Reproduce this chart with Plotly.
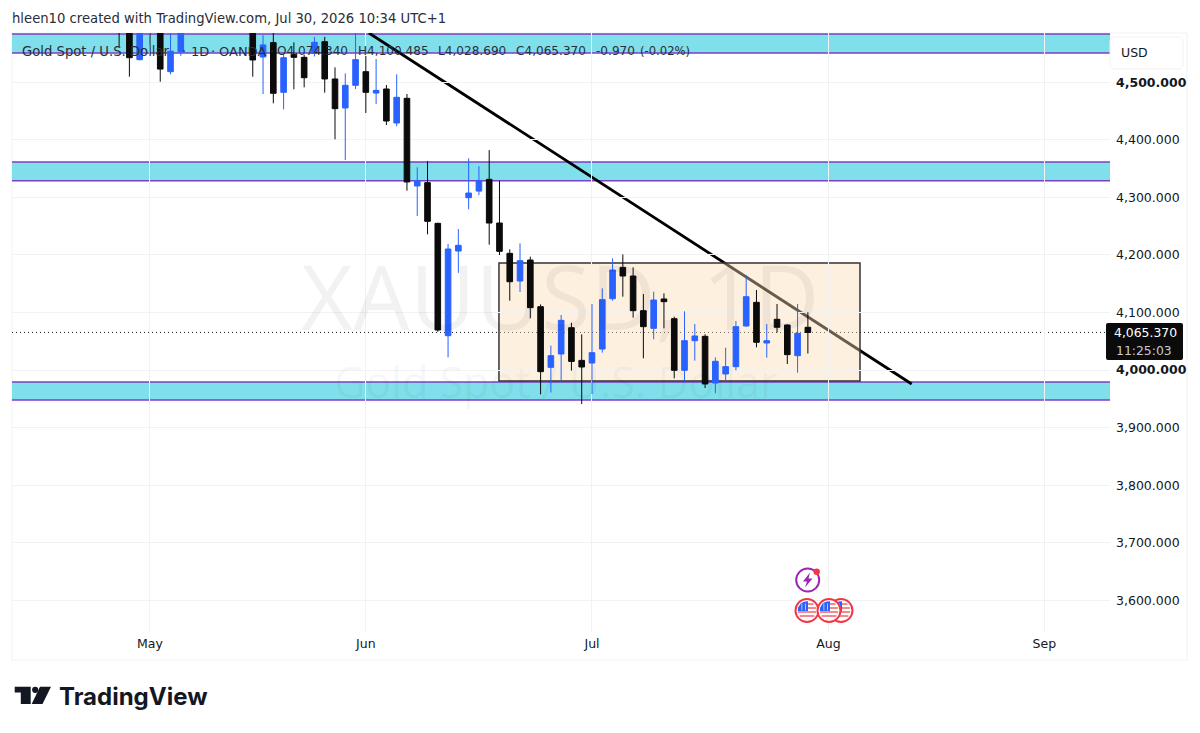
import math
import plotly.graph_objects as go

# ---- data ----------------------------------------------------------------
bar_index = [-3,-2,-1,0,1,2,3,10,11,12,13,14,15,16,17,18,19,20,21,22,23,24,25,26,27,28,29,30,31,32,33,34,35,36,37,38,39,40,41,42,43,44,45,46,47,48,49,50,51,52,53,54,55,56,57,58,59,60,61,62,63,64]
opens = [4640,4620,4539.4,4625,4600,4518.5,4553,4610,4544,4569,4482.6,4548.6,4543.4,4550,4570.6,4505.8,4455.4,4494.8,4518.5,4481.4,4488.4,4429.3,4472.2,4319.9,4325.6,4254.9,4059.7,4206.8,4299.5,4311,4331.4,4255.5,4202.8,4154.7,4191.2,4110.1,4004.7,4027.9,4073.6,4016.8,4012.2,4036.5,4124,4178.4,4163.4,4103.2,4072.5,4123.5,4089.3,3999.5,4051,4058.6,3977.5,3993.2,4005.9,4076.6,4117.7,4047,4088.2,4078.3,4025,4074.34]
highs = [4650,4630,4600,4635,4610,4590,4600,4620,4582,4590,4548.6,4569.5,4548,4579,4579,4526,4515.6,4590,4545.7,4540.5,4495.3,4513.9,4479.7,4352.3,4363.2,4256,4219,4245,4367.8,4354.5,4382.3,4329,4209.7,4220.2,4197,4114,4042.4,4095.6,4082.3,4062,4114.7,4142,4194,4201,4178.5,4132.2,4136.2,4133.3,4092.8,4102,4080,4062.1,4022.1,4038.9,4085.3,4165.2,4139.1,4080,4114.8,4079.5,4114.8,4100.485]
lows = [4560,4509.8,4538,4565,4501,4513.9,4546,4509.8,4479.7,4463.5,4453,4487.8,4491.3,4545,4482,4401,4365,4488.4,4446.7,4462.3,4425.8,4423.5,4311.7,4267.6,4235.8,4066.6,4022,4169,4279.2,4304,4217.8,4199.9,4120.5,4135.6,4089.8,3957.8,3961,3981.5,3998.9,3941,3958.4,4030.2,4120.5,4127.5,4091,4020.4,4053.4,4072.5,3985.6,3979.8,4016.3,3968.8,3959.6,3979.8,3999.5,4075.4,4039.5,4021.5,4065,4010.5,3995.5,4028.69]
closes = [4600,4542.8,4595,4590,4523,4554,4595,4538.8,4565,4480.9,4542.8,4543.4,4508,4569.5,4505.8,4454.2,4494.8,4539.4,4482.6,4486,4432.8,4473.9,4326.8,4329,4258.4,4069.6,4210.3,4216.7,4307.6,4329,4255.5,4206.3,4153.5,4190,4108.4,3997.2,4025,4086.4,4015,4005.3,4030.2,4122.3,4173.8,4163.4,4103.2,4075.4,4121.7,4118.8,3999.5,4051,4059.2,3975.8,4015.2,4005.9,4075.4,4127.5,4048.2,4051,4074.3,4026.8,4063.8,4065.37]

month_bars = [0, 21, 43, 66, 87]
month_labels = ["May", "Jun", "Jul", "Aug", "Sep"]
price_ticks = [3600, 3700, 3800, 3900, 4000, 4100, 4200, 4300, 4400, 4500]
price_labels = ["3,600.000", "3,700.000", "3,800.000", "3,900.000", "<b>4,000.000</b>",
                "4,100.000", "4,200.000", "4,300.000", "4,400.000", "<b>4,500.000</b>"]
zones = [(4550.9, 4583.9), (4329, 4361.5), (3948, 3979.3)]
box_bars = (33.95, 69.07)
box_prices = (3981, 4186)
trend_bars = (21.3, 74.1)
trend_prices = (4585.7, 3975.7)
last_price = 4065.37

title_text = "hleen10 created with TradingView.com, Jul 30, 2026 10:34 UTC+1"
legend_tokens = ["Gold Spot / U.S. Dollar", "·", "1D", "·", "OANDA", "·", "O4,074.340", "H4,100.485",
                 "L4,028.690", "C4,065.370", "-0.970", "(-0.02%)"]

# ---- page geometry --------------------------------------------------------
W, H = 1200, 733
L, R, T, B = 12, 1110, 33, 632
FONT = "DejaVu Sans"
INK = "#131722"
GRID = "#f1f2f4"
legend_x = [20, 180, 189, 209, 217, 268, 275, 356, 436, 514, 594, 638]
legend_size = [13.2, 13, 13, 13, 13, 13, 12.1, 12.1, 12.1, 12.1, 12.1, 11.6]


def px(x):
    return (x - L) / (R - L)


def py(y):
    return 1 - (y - T) / (B - T)


def poly(points):
    return "M" + " L".join(f"{px(x):.5f},{py(y):.5f}" for x, y in points) + " Z"


def round_rect(x0, y0, x1, y1, r):
    X0, X1, Y0, Y1 = px(x0), px(x1), py(y0), py(y1)
    a, b, c, d = px(x0 + r), px(x1 - r), py(y0 + r), py(y1 - r)
    return (f"M{a:.5f},{Y0:.5f} L{b:.5f},{Y0:.5f} Q{X1:.5f},{Y0:.5f} {X1:.5f},{c:.5f} "
            f"L{X1:.5f},{d:.5f} Q{X1:.5f},{Y1:.5f} {b:.5f},{Y1:.5f} L{a:.5f},{Y1:.5f} "
            f"Q{X0:.5f},{Y1:.5f} {X0:.5f},{d:.5f} L{X0:.5f},{c:.5f} Q{X0:.5f},{Y0:.5f} {a:.5f},{Y0:.5f} Z")


def circle(cx, cy, r, fill, line=None, width=0):
    return dict(type="circle", xref="paper", yref="paper", layer="above",
                x0=px(cx - r), x1=px(cx + r), y0=py(cy + r), y1=py(cy - r),
                fillcolor=fill, line=dict(color=line or fill, width=width))


def path(d, fill, line=None, width=0, layer="above"):
    return dict(type="path", xref="paper", yref="paper", layer=layer, path=d,
                fillcolor=fill, line=dict(color=line or fill, width=width))


def flag(cx, cy):
    r = 11
    inner = 9.2
    out = [circle(cx, cy, r + 0.5, "#ffffff", "#f23645", 2)]
    for dy in (-6.5, -2.5, 1.5, 5.5):
        half = (inner * inner - dy * dy) ** 0.5
        out.append(path(poly([(cx - half, cy + dy - 0.9), (cx + half, cy + dy - 0.9),
                              (cx + half, cy + dy + 0.9), (cx - half, cy + dy + 0.9)]), "#f77c80"))
    arc = [(cx + inner * math.cos(t), cy + inner * math.sin(t))
           for t in [math.pi + k * math.pi / 16 for k in range(9)]]
    out.append(path(poly(arc + [(cx + 1, cy - inner), (cx + 1, cy + 0.5), (cx - inner, cy + 0.5)]), "#2962ff"))
    for dx in (-5.5, -2):
        out.append(path(poly([(cx + dx, cy - 7), (cx + dx + 0.8, cy - 7), (cx + dx + 0.8, cy), (cx + dx, cy)]), "#cfdcff"))
    return out


shapes = []
# chart frame
shapes.append(dict(type="rect", xref="paper", yref="paper", layer="below",
                   x0=0, x1=px(1187), y0=py(660), y1=1,
                   fillcolor="rgba(0,0,0,0)", line=dict(color=GRID, width=1)))
# zones: fill plus top and bottom rules only
for lo, hi in zones:
    shapes.append(dict(type="rect", xref="paper", yref="y", layer="below", x0=0, x1=1, y0=lo, y1=hi,
                       fillcolor="#7fdfea", line=dict(width=0)))
    for level in (lo, hi):
        shapes.append(dict(type="line", xref="paper", yref="y", layer="below", x0=0, x1=1, y0=level, y1=level,
                           line=dict(color="#7b3fc6", width=1.4)))
# trend line, under the box
shapes.append(dict(type="line", xref="x", yref="y", layer="below",
                   x0=trend_bars[0], x1=trend_bars[1], y0=trend_prices[0], y1=trend_prices[1],
                   line=dict(color="#000000", width=2.8)))
# range box
shapes.append(dict(type="rect", xref="x", yref="y", layer="below",
                   x0=box_bars[0], x1=box_bars[1], y0=box_prices[0], y1=box_prices[1],
                   fillcolor="rgba(250,220,178,0.42)", line=dict(color="#333333", width=1.5)))
# last price line
shapes.append(dict(type="line", xref="paper", yref="y", layer="below", x0=0, x1=1,
                   y0=last_price, y1=last_price, line=dict(color="#131722", width=1, dash="1px,3px")))
# USD box and price tag
shapes.append(path(round_rect(1110, 37, 1183, 69, 5), "#ffffff", GRID, 1))
shapes.append(path(round_rect(1106, 323, 1183, 360, 2), "#0b0b0b"))
# event icons
shapes.append(circle(807.7, 580, 11.5, "#ffffff", "#9c27b0", 2))
shapes.append(path(poly([(810, 572.5), (803, 581.5), (807, 581.5), (805, 587.5),
                         (812.5, 578.5), (808.5, 578.5)]), "#9c27b0"))
shapes.append(circle(816.7, 571.7, 3.2, "#f23645"))
for cx in (841, 807, 829):
    shapes.extend(flag(cx, 610.5))
# TradingView logo
ink = "#131722"
shapes.append(path(poly([(14.7, 686.7), (30.7, 686.7), (30.7, 704), (20.8, 704), (20.8, 692.5), (14.7, 692.5)]), ink))
shapes.append(circle(35.2, 689.8, 3.1, ink))
shapes.append(path(poly([(40, 686.7), (51, 686.7), (42.5, 704), (31.7, 704)]), ink))

annotations = [
    dict(text=title_text, x=px(10), y=py(18), font=dict(size=13.2, color="#2a2e39"), xanchor="left"),
    dict(text="XAUUSD, 1D", x=px(560), y=py(295), font=dict(size=90, color="rgba(19,23,34,0.055)", family="Open Sans")),
    dict(text="Gold Spot / U.S. Dollar", x=px(556), y=py(381), font=dict(size=43, color="rgba(19,23,34,0.05)", family="Open Sans")),
    dict(text="USD", x=px(1119), y=py(53), font=dict(size=12.5, color=INK), xanchor="left"),
    dict(text="4,065.370", x=px(1145), y=py(332), font=dict(size=12.4, color="#ffffff")),
    dict(text="11:25:03", x=px(1144), y=py(350), font=dict(size=12.4, color="#c8cad0")),
    dict(text="<b>TradingView</b>", x=px(57), y=py(696), font=dict(size=24, color=ink, family="Inter"), xanchor="left"),
]
for token, tx, ts in zip(legend_tokens, legend_x, legend_size):
    annotations.append(dict(text=token, x=px(tx), y=py(51.5), font=dict(size=ts, color="#2a2e39"), xanchor="left"))
for a in annotations:
    a.update(xref="paper", yref="paper", showarrow=False, yanchor="middle")
    a.setdefault("xanchor", "center")
    a["font"].setdefault("family", FONT)

fig = go.Figure(go.Candlestick(
    x=bar_index, open=opens, high=highs, low=lows, close=closes,
    increasing=dict(line=dict(color="#2962ff", width=1), fillcolor="#2962ff"),
    decreasing=dict(line=dict(color="#0b0b0b", width=1), fillcolor="#0b0b0b"),
    whiskerwidth=0, hoverinfo="skip", showlegend=False,
))
fig.update_layout(
    width=W, height=H, autosize=False,
    margin=dict(l=L, r=W - R, t=T, b=H - B),
    paper_bgcolor="#ffffff", plot_bgcolor="#ffffff",
    shapes=shapes, annotations=annotations, boxgap=0.22,
    font=dict(family=FONT, color=INK, size=13),
    xaxis=dict(range=[-13.42, 93.39], rangeslider=dict(visible=False), showline=False, zeroline=False,
               tickmode="array", tickvals=month_bars, ticktext=month_labels, automargin=False,
               showgrid=True, gridcolor=GRID, gridwidth=1, ticks="", ticklabelstandoff=2,
               tickfont=dict(size=12.5, color=INK)),
    yaxis=dict(range=[3544.8, 4585.7], side="right", showline=False, zeroline=False, automargin=False,
               tickmode="array", tickvals=price_ticks, ticktext=price_labels,
               showgrid=True, gridcolor=GRID, gridwidth=1, ticks="", ticklabelstandoff=5,
               tickfont=dict(size=12.5, color=INK)),
)
fig.write_html("out.html", post_script="document.body.style.margin='0';document.body.style.overflow='hidden';",
               config=dict(displayModeBar=False))
